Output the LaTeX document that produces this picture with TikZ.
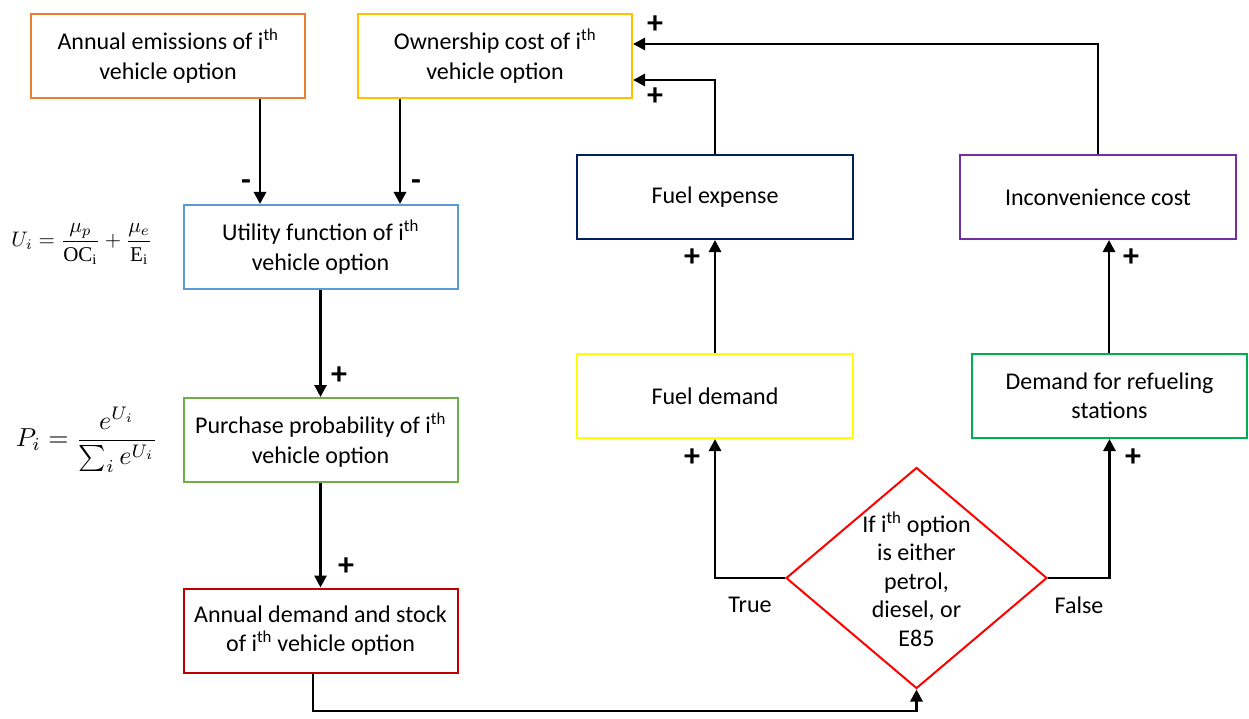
\documentclass[tikz,border=0pt]{standalone}
\usepackage{amsmath}
\usepackage{fontspec}
\setmainfont{Carlito}
\newfontfamily\lserif{Liberation Serif}
\usetikzlibrary{shapes.geometric,arrows.meta}
\definecolor{corange}{HTML}{ED7D31}
\definecolor{cgold}{HTML}{FFC000}
\definecolor{cblue}{HTML}{5B9BD5}
\definecolor{cgreen}{HTML}{70AD47}
\definecolor{cdred}{HTML}{C00000}
\definecolor{cnavy}{HTML}{002060}
\definecolor{cpurple}{HTML}{7030A0}
\definecolor{cyellow}{HTML}{FFFF00}
\definecolor{cbgreen}{HTML}{00B050}
\definecolor{cred}{HTML}{FF0000}
\begin{document}
\begin{tikzpicture}[x=1pt,y=-1pt,
  box/.style={draw, line width=2pt, minimum width=274pt, minimum height=84pt, inner sep=0pt, align=center, font=\fontsize{24}{29.5}\selectfont},
  arr/.style={line width=2.8pt, -{Triangle[length=12pt,width=12pt]}},
  sign/.style={font=\fontsize{32}{32}\selectfont\bfseries},
  lbl/.style={font=\fontsize{24}{28}\selectfont}]
\useasboundingbox (0,0) rectangle (1249,719);
\fill[white] (0,0) rectangle (1249,719);

\node[box, draw=corange] (em) at (168,56) {Annual emissions of i\textsuperscript{th}\\vehicle option};
\node[box, draw=cgold] (oc) at (495,56) {Ownership cost of i\textsuperscript{th}\\vehicle option};
\node[box, draw=cblue] (uf) at (320.5,247) {Utility function of i\textsuperscript{th}\\vehicle option};
\node[box, draw=cgreen] (pp) at (320.5,440) {Purchase probability of i\textsuperscript{th}\\vehicle option};
\node[box, draw=cdred] (ad) at (320.5,630.5) {Annual demand and stock\\of i\textsuperscript{th} vehicle option};
\node[box, draw=cnavy, minimum width=276pt] (fe) at (715,197) {Fuel expense};
\node[box, draw=cpurple, minimum width=276pt] (ic) at (1098,197) {Inconvenience cost};
\node[box, draw=cyellow, minimum width=276pt] (fd) at (715,396) {Fuel demand};
\node[box, draw=cbgreen, minimum width=275pt] (dr) at (1109.5,396) {Demand for refueling\\stations};
\node[diamond, draw=cred, line width=2pt, minimum width=261pt, minimum height=221pt, inner sep=0pt] (dm) at (916.5,578) {};
\node[align=center, font=\fontsize{24}{28.5}\selectfont] (dmt) at (916.5,579) {If i\textsuperscript{th} option\\is either\\petrol,\\diesel, or\\E85};

\node (ueq) at (82,244) {\scalebox{2.1}{$U_i=\dfrac{\mu_p}{\text{\lserif OC}_{\text{\lserif i}}}+\dfrac{\mu_e}{\text{\lserif E}_{\text{\lserif i}}}$}};
\node (peq) at (87,440) {\scalebox{2.6}{$P_i=\dfrac{e^{U_i}}{\sum_i e^{U_i}}$}};

\draw[arr] (em.south -| 260,0) -- (uf.north -| 260,0);
\draw[arr] (oc.south -| 400,0) -- (uf.north -| 400,0);
\draw[arr] (uf.south) -- (pp.north);
\draw[arr] (pp.south) -- (ad.north);
\draw[arr] (ad.south -| 313,0) -- (313,711) -| (dm.south);
\draw[arr] (dm.west) -| (fd.south);
\draw[arr] (dm.east) -| (dr.south);
\draw[arr] (fd.north) -- (fe.south);
\draw[arr] (dr.north -| 1109,0) -- (ic.south -| 1109,0);
\draw[arr] (fe.north) |- (oc.east |- 0,80);
\draw[arr] (ic.north) |- (oc.east |- 0,44);

\node[sign] (s1) at (246,185) {-};
\node[sign] (s2) at (416,185) {-};
\node[sign] (s3) at (339,376) {+};
\node[sign] (s4) at (346,567) {+};
\node[sign] (s5) at (692,458) {+};
\node[sign] (s6) at (1133,458) {+};
\node[sign] (s7) at (692,258) {+};
\node[sign] (s8) at (1131,258) {+};
\node[sign] (s9) at (655,97) {+};
\node[sign] (s10) at (655,25) {+};
\node[lbl] (tt) at (750,605) {True};
\node[lbl] (ff) at (1079,605) {False};
\end{tikzpicture}
\end{document}
